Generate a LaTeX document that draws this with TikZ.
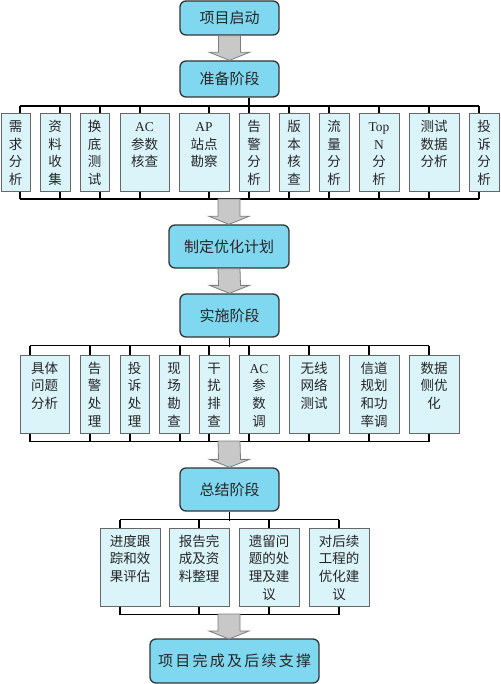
\documentclass[tikz,border=0pt]{standalone}
\usepackage{fontspec}
\setmainfont{Liberation Serif}
\newfontfamily\cjk{Noto Sans CJK SC}
\newfontfamily\cjkwide[LetterSpace=15]{Noto Sans CJK SC}
\newfontfamily\latin{Liberation Serif}
\usepackage{tikz}
\usetikzlibrary{calc}
\definecolor{phasecol}{RGB}{128,216,240}
\definecolor{taskcol}{RGB}{218,244,250}
\definecolor{arrowfill}{RGB}{200,200,200}
\definecolor{arrowline}{RGB}{125,125,125}
\tikzstyle{phase}=[draw=black!80,line width=1.3pt,rounded corners=6pt,fill=phasecol,inner sep=0pt,text=black!85,font=\cjk\fontsize{15}{18}\selectfont]
\tikzstyle{task}=[draw=black!60,line width=1pt,fill=taskcol,inner sep=2pt,align=center,text height=16pt,text depth=58pt,text=black!85,font=\cjk\fontsize{13.5}{17.7}\selectfont]
\tikzstyle{edge}=[draw,line width=1.6pt,-]
\tikzstyle{fat}=[fill=arrowfill,draw=arrowline,line width=0.8pt]
\newcommand{\fatarrow}[2]{\filldraw[fat] ($(#1)+(-11,0)$) -- ($(#2)+(-11,-8)$) -- ($(#2)+(-20,-8)$) -- (#2) -- ($(#2)+(20,-8)$) -- ($(#2)+(11,-8)$) -- ($(#1)+(11,0)$) -- cycle;}

\begin{document}
\begin{tikzpicture}[x=1pt,y=-1pt]
        \useasboundingbox (0,0) rectangle (500,684);
        % phases
        \node[phase,minimum width=99pt,minimum height=34pt] (start) at (229.5,18) {项目启动};
        \node[phase,minimum width=99pt,minimum height=36pt] (prep) at (229.5,79) {准备阶段};
        \node[phase,minimum width=120pt,minimum height=43pt] (plan) at (229,246.5) {制定优化计划};
        \node[phase,minimum width=99pt,minimum height=43pt] (impl) at (229.5,315.5) {实施阶段};
        \node[phase,minimum width=99pt,minimum height=43pt] (sum) at (229.5,489.5) {总结阶段};
        \node[phase,minimum width=169pt,minimum height=44pt,font=\cjkwide\fontsize{15}{18}\selectfont] (done) at (234.5,661) {项目完成及后续支撑};
        % preparation tasks
        \node[task,text width=25pt] (need) at (15.5,152.5) {需\\求\\分\\析};
        \node[task,text width=26pt] (collect) at (55,152.5) {资\\料\\收\\集};
        \node[task,text width=25pt] (swap) at (94.5,152.5) {换\\底\\测\\试};
        \node[task,text width=45pt] (acchk) at (144.5,152.5) {{\latin AC}\\参数\\核查};
        \node[task,text width=46pt] (apsite) at (204,152.5) {{\latin AP}\\站点\\勘察};
        \node[task,text width=26pt] (alarm) at (254,152.5) {告\\警\\分\\析};
        \node[task,text width=26pt] (ver) at (294,152.5) {版\\本\\核\\查};
        \node[task,text width=26pt] (flow) at (334,152.5) {流\\量\\分\\析};
        \node[task,text width=36pt] (topn) at (379,152.5) {{\latin Top}\\{\latin N}\\分\\析};
        \node[task,text width=46pt] (testdata) at (434,152.5) {测试\\数据\\分析};
        \node[task,text width=26pt] (complain) at (484,152.5) {投\\诉\\分\\析};
        % implementation tasks
        \node[task,text width=45pt] (issue) at (44.5,394) {具体\\问题\\分析};
        \node[task,text width=25pt] (alarmfix) at (94.5,394) {告\\警\\处\\理};
        \node[task,text width=25pt] (complfix) at (134.5,394) {投\\诉\\处\\理};
        \node[task,text width=26pt] (survey) at (174,394) {现\\场\\勘\\查};
        \node[task,text width=26pt] (interf) at (214,394) {干\\扰\\排\\查};
        \node[task,text width=36pt] (actune) at (259,394) {{\latin AC}\\参\\数\\调};
        \node[task,text width=46pt] (wlan) at (314,394) {无线\\网络\\测试};
        \node[task,text width=46pt] (channel) at (374,394) {信道\\规划\\和功\\率调};
        \node[task,text width=46pt] (dataopt) at (434,394) {数据\\侧优\\化};
        % summary tasks
        \node[task,text width=56pt] (track) at (130,567) {进度跟\\踪和效\\果评估};
        \node[task,text width=56pt] (report) at (199,567) {报告完\\成及资\\料整理};
        \node[task,text width=56pt] (legacy) at (269,567) {遗留问\\题的处\\理及建\\议};
        \node[task,text width=56pt] (advice) at (339,567) {对后续\\工程的\\优化建\\议};
        % buses
        \draw[edge] ([xshift=19.5pt]prep.south) -- ++(0,9);
        \draw[edge] ([xshift=4.5pt,yshift=7pt]need.north) -- ([xshift=-5pt,yshift=7pt]complain.north);
        \draw[edge] ([xshift=4.5pt,yshift=-7pt]need.south) -- ([xshift=-5pt,yshift=-7pt]complain.south);
        \foreach \n/\d in {need/4.5,collect/5,swap/5.5,acchk/-4.5,apsite/5,alarm/-5,ver/-5,flow/-5,topn/0,testdata/-5,complain/-5}{
          \draw[edge] ([xshift=\d pt]\n.north) -- ++(0,-7);
          \draw[edge] ([xshift=\d pt]\n.south) -- ++(0,7);
        }
        \draw[edge] (impl.south) -- ++(0,9);
        \draw[edge] ([xshift=-14.5pt,yshift=9pt]issue.north) -- ([xshift=-5pt,yshift=9pt]dataopt.north);
        \draw[edge] ([xshift=-14.5pt,yshift=-8pt]issue.south) -- ([xshift=-5pt,yshift=-8pt]dataopt.south);
        \foreach \n/\d in {issue/-14.5,alarmfix/-4.5,complfix/-4.5,survey/6,interf/-5,actune/-10,wlan/-5,channel/-5,dataopt/-5}{
          \draw[edge] ([xshift=\d pt]\n.north) -- ++(0,-9);
          \draw[edge] ([xshift=\d pt]\n.south) -- ++(0,8);
        }
        \draw[edge] (sum.south) -- ++(0,9);
        \draw[edge] ([xshift=-10pt,yshift=8pt]track.north) -- ([yshift=8pt]advice.north);
        \draw[edge] ([xshift=-10pt,yshift=-8pt]track.south) -- ([yshift=-8pt]advice.south);
        \foreach \n/\d in {track/-10,report/0,legacy/0,advice/0}{
          \draw[edge] ([xshift=\d pt]\n.north) -- ++(0,-8);
          \draw[edge] ([xshift=\d pt]\n.south) -- ++(0,8);
        }
        % arrows
        \coordinate (b1) at (229,199);
        \coordinate (b2) at (229,441);
        \coordinate (b3) at (229,614);
        \coordinate (d3) at (229,639);
        \fatarrow{start.south}{prep.north}
        \fatarrow{b1}{plan.north}
        \fatarrow{plan.south}{impl.north}
        \fatarrow{b2}{sum.north}
        \fatarrow{b3}{d3}
\end{tikzpicture}
\end{document}
